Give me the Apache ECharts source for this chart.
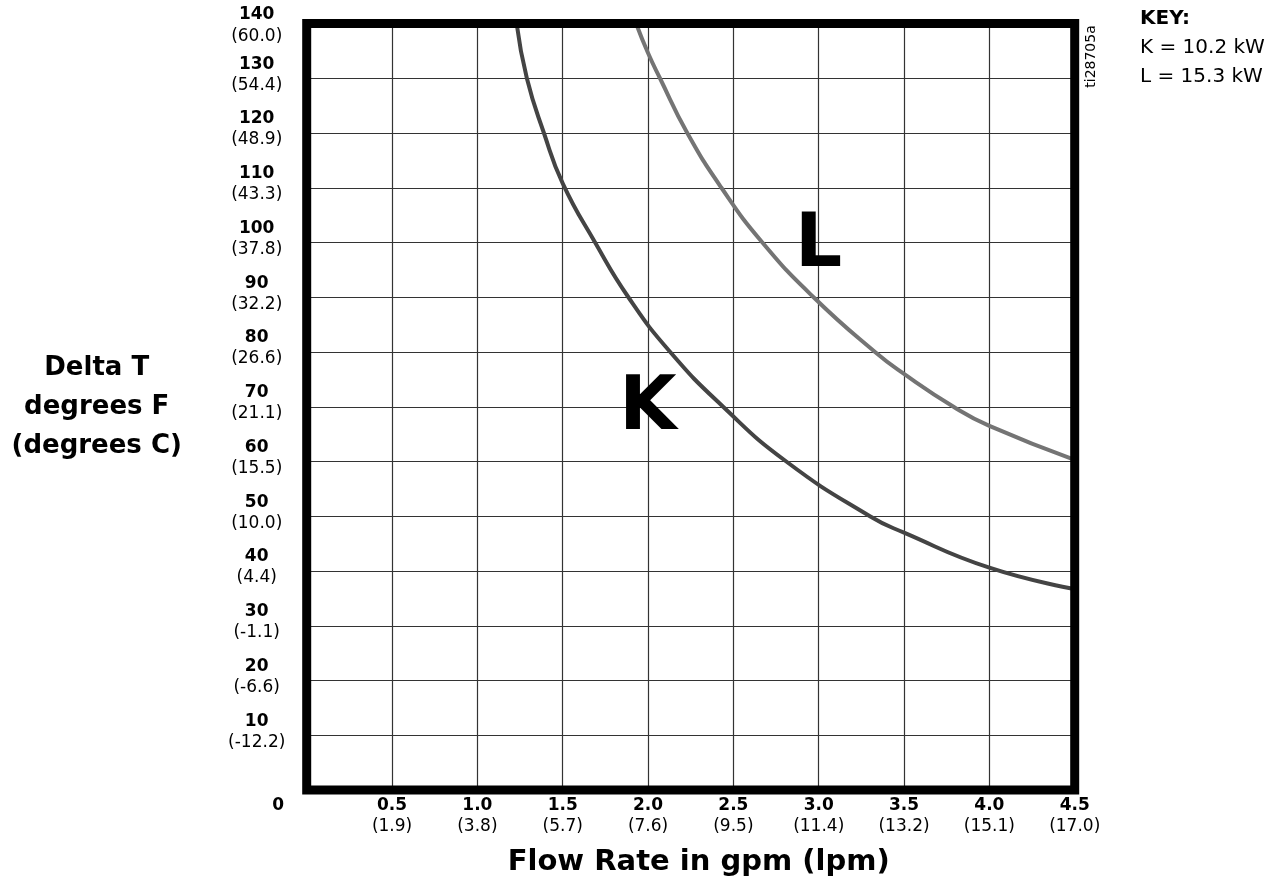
<!DOCTYPE html>
<html>
<head>
<meta charset="utf-8">
<script src="https://cdn.jsdelivr.net/npm/echarts@6/dist/echarts.min.js"></script>
<style>
  html, body { margin: 0; padding: 0; background: #fff; }
  #chart { width: 1278px; height: 892px; }
</style>
</head>
<body>
<div id="chart"></div>
<script>
const FONT = 'DejaVu Sans';

// Heater K (10.2 kW): flow rate in gpm vs. temperature rise in °F
const kFlow   = [1.23, 1.29, 1.39, 1.50, 1.69, 1.885, 2.13, 2.44, 2.81, 3.30, 3.50, 4.00, 4.50];
const kDeltaT = [140, 130, 120, 110.8, 100, 90, 80, 70, 60, 50, 47, 40.6, 36.7];

// Heater L (15.3 kW)
const lFlow   = [1.93, 2.00, 2.07, 2.23, 2.43, 2.67, 2.97, 3.33, 3.50, 3.79, 4.00, 4.50];
const lDeltaT = [140, 134.6, 130, 120, 110, 100, 90, 80, 76.0, 70, 66.5, 60.3];

// Metric equivalents printed under each tick
const flowTicksLpm = ['(1.9)', '(3.8)', '(5.7)', '(7.6)', '(9.5)', '(11.4)', '(13.2)', '(15.1)', '(17.0)']; // 0.5 … 4.5 gpm
const deltaTicksC  = ['(-12.2)', '(-6.6)', '(-1.1)', '(4.4)', '(10.0)', '(15.5)', '(21.1)', '(26.6)',
                      '(32.2)', '(37.8)', '(43.3)', '(48.9)', '(54.4)', '(60.0)'];                    // 10 … 140 °F

const keyTitle = 'KEY:';
const keyLines = ['K = 10.2 kW', 'L = 15.3 kW'];
const drawingId = 'ti28705a';

const curveLabels = [
  { name: 'K', at: [2.0, 69.5] },
  { name: 'L', at: [3.0, 99.3] }
];

const zip = (xs, ys) => xs.map((x, i) => [x, ys[i]]);

const tickRich = {
  b: { fontFamily: FONT, fontSize: 17, fontWeight: 'bold', lineHeight: 21, color: '#000' },
  n: { fontFamily: FONT, fontSize: 17, lineHeight: 21, color: '#000' },
  z: { fontFamily: FONT, fontSize: 17, fontWeight: 'bold', lineHeight: 21, color: '#000', padding: [0, 57, 0, 0] },
  // topmost label pair is nudged down so it hugs the frame
  t:  { fontFamily: FONT, fontSize: 17, fontWeight: 'bold', lineHeight: 21, color: '#000', padding: [10, 0, 0, 0] },
  tn: { fontFamily: FONT, fontSize: 17, lineHeight: 21, color: '#000', padding: [12, 0, 0, 0] }
};

function curveMark(lbl) {
  return {
    symbol: 'circle',
    symbolSize: 1,
    itemStyle: { color: 'rgba(0,0,0,0)' },
    label: {
      show: true, position: 'inside', formatter: lbl.name,
      fontFamily: FONT, fontSize: 74, fontWeight: 'bold', color: '#000'
    },
    data: [{ coord: lbl.at }]
  };
}

const chart = echarts.init(document.getElementById('chart'), null, { renderer: 'canvas' });

chart.setOption({
  animation: false,
  backgroundColor: '#fff',
  textStyle: { fontFamily: FONT },
  grid: {
    left: 306.7, right: 203.3, top: 23.5, bottom: 102,
    outerBoundsMode: 'none',
    show: true, borderColor: '#000', borderWidth: 9,
    backgroundColor: 'rgba(0,0,0,0)', z: 5
  },
  xAxis: {
    type: 'value', min: 0, max: 4.5, interval: 0.5,
    axisLine: { show: false }, axisTick: { show: false },
    splitLine: { show: true, lineStyle: { color: '#333', width: 1.2 } },
    axisLabel: {
      margin: 5, color: '#000', showMinLabel: true, showMaxLabel: true,
      formatter: v => {
        if (v === 0) return '{z|0}';
        const i = Math.round(v / 0.5) - 1;
        return '{b|' + v.toFixed(1) + '}\n{n|' + flowTicksLpm[i] + '}';
      },
      rich: tickRich
    },
    name: 'Flow Rate in gpm (lpm)',
    nameLocation: 'middle', nameGap: 58,
    nameTextStyle: { fontFamily: FONT, fontSize: 29, fontWeight: 'bold', color: '#000', padding: [0, 0, 0, 16] }
  },
  yAxis: {
    type: 'value', min: 0, max: 140, interval: 10,
    axisLine: { show: false }, axisTick: { show: false },
    splitLine: { show: true, lineStyle: { color: '#333', width: 1.2 } },
    axisLabel: {
      margin: 50, align: 'center', color: '#000', padding: [0, 0, 7, 0],
      showMinLabel: true, showMaxLabel: true,
      formatter: v => {
        if (v === 0) return '';
        const i = Math.round(v / 10) - 1;
        if (v === 140) return '{t|' + v + '}\n{tn|' + deltaTicksC[i] + '}';
        return '{b|' + v + '}\n{n|' + deltaTicksC[i] + '}';
      },
      rich: tickRich
    },
    name: 'Delta T\ndegrees F\n(degrees C)',
    nameLocation: 'middle', nameRotate: 0, nameGap: 210,
    nameTextStyle: {
      fontFamily: FONT, fontSize: 26, fontWeight: 'bold', color: '#000',
      lineHeight: 39, align: 'center', verticalAlign: 'middle', padding: [26, 0, 0, 0]
    }
  },
  series: [
    {
      name: 'K', type: 'line', data: zip(kFlow, kDeltaT),
      showSymbol: false, smooth: 0.5,
      lineStyle: { color: '#444', width: 4 }, z: 2,
      markPoint: curveMark(curveLabels[0])
    },
    {
      name: 'L', type: 'line', data: zip(lFlow, lDeltaT),
      showSymbol: false, smooth: 0.5,
      lineStyle: { color: '#747474', width: 4 }, z: 2,
      markPoint: curveMark(curveLabels[1])
    }
  ],
  graphic: [
    {
      type: 'text', left: 1140, top: 9,
      style: { text: keyTitle, fontFamily: FONT, fontSize: 20, fontWeight: 'bold', fill: '#000' }
    },
    {
      type: 'text', left: 1140, top: 33,
      style: { text: keyLines.join('\n'), fontFamily: FONT, fontSize: 20, lineHeight: 29.5, fill: '#000' }
    },
    {
      type: 'text', x: 1091.7, y: 56.5, rotation: Math.PI / 2,
      style: { text: drawingId, fontFamily: FONT, fontSize: 14, fill: '#000', align: 'center', verticalAlign: 'middle' }
    }
  ]
});
</script>
</body>
</html>
